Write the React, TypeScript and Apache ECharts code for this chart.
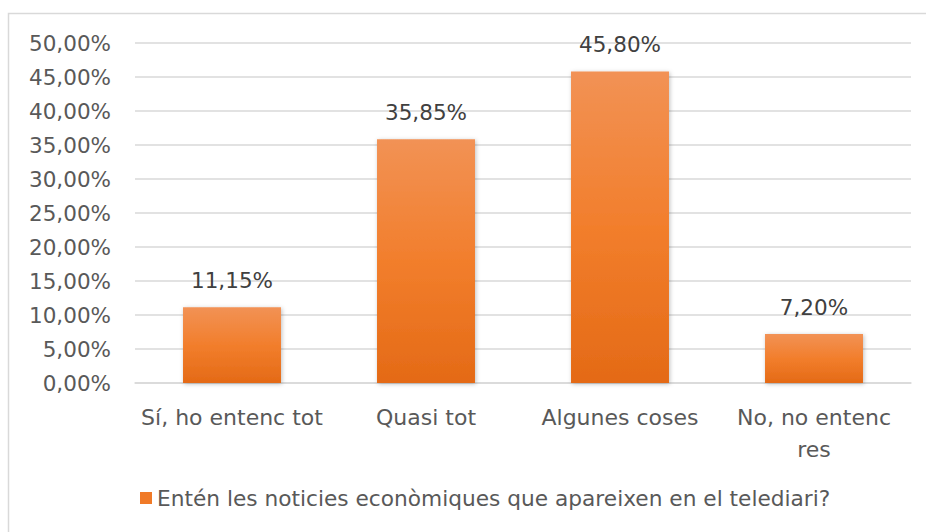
import React, { useEffect, useRef } from "react";
import * as echarts from "echarts";

const categories = ["Sí, ho entenc tot", "Quasi tot", "Algunes coses", "No, no entenc\nres"];
const values = [11.15, 35.85, 45.8, 7.2];
const seriesName = "Entén les noticies econòmiques que apareixen en el telediari?";
const yMin = 0;
const yMax = 50;
const yStep = 5;

const fmt = (v: number) => v.toFixed(2).replace(".", ",") + "%";
const FONT = "DejaVu Sans";

export default function App() {
  const ref = useRef<HTMLDivElement>(null);
  useEffect(() => {
    if (!ref.current) return;
    const chart = echarts.init(ref.current, null, { renderer: "svg" });
    const barColor = new echarts.graphic.LinearGradient(0, 0, 0, 1, [
      { offset: 0, color: "#F29255" },
      { offset: 0.5, color: "#F27E2C" },
      { offset: 1, color: "#E46A16" },
    ]);
    chart.setOption({
      animation: false,
      backgroundColor: "#ffffff",
      textStyle: { fontFamily: FONT },
      graphic: [
        {
          type: "rect",
          shape: { x: 8.5, y: 13.5, width: 940, height: 560 },
          style: { fill: "none", stroke: "#d9d9d9", lineWidth: 1.5 },
          silent: true,
        },
      ],
      grid: { left: 135, right: 15, top: 43, bottom: 149 },
      legend: {
        bottom: 18,
        left: 135,
        itemWidth: 12,
        itemHeight: 12,
        itemGap: 8,
        icon: "rect",
        textStyle: { fontFamily: FONT, fontSize: 21.7, color: "#595959" },
        data: [{ name: seriesName, itemStyle: { color: "#F07A27" } }],
      },
      xAxis: {
        type: "category",
        data: categories,
        axisLine: { show: true, lineStyle: { color: "#d9d9d9", width: 1.5 } },
        axisTick: { show: false },
        axisLabel: {
          fontFamily: FONT,
          fontSize: 22,
          color: "#595959",
          margin: 18,
          lineHeight: 32,
          interval: 0,
        },
      },
      yAxis: {
        type: "value",
        min: yMin,
        max: yMax,
        interval: yStep,
        axisLine: { show: false },
        axisTick: { show: false },
        splitLine: { lineStyle: { color: "#d9d9d9", width: 1.5 } },
        axisLabel: {
          fontFamily: FONT,
          fontSize: 21.5,
          color: "#595959",
          margin: 24,
          formatter: (v: number) => fmt(v),
        },
      },
      series: [
        {
          name: seriesName,
          type: "bar",
          data: values,
          barWidth: "50.5%",
          itemStyle: {
            color: barColor,
            shadowColor: "rgba(0,0,0,0.25)",
            shadowBlur: 4,
            shadowOffsetX: 1,
            shadowOffsetY: 1,
          },
          label: {
            show: true,
            position: "top",
            distance: 16,
            fontFamily: FONT,
            fontSize: 21.5,
            color: "#404040",
            formatter: (p: any) => fmt(p.value),
          },
        },
      ],
    });
    return () => chart.dispose();
  }, []);
  return (
    <div
      ref={ref}
      style={{ position: "fixed", left: 0, top: 0, width: 926, height: 532 }}
    />
  );
}
